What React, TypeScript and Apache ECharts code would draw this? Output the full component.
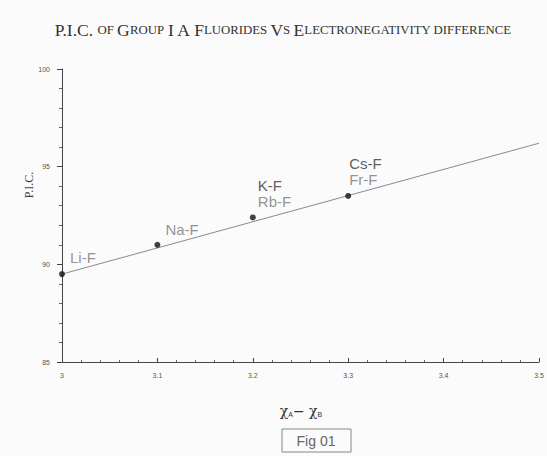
import React, { useEffect, useRef } from "react";
import * as echarts from "echarts";

const pointX = [3.0, 3.1, 3.2, 3.3];
const pointY = [89.5, 91.0, 92.4, 93.5];
const pointLabels = ["Li-F", "Na-F", "K-F\nRb-F", "Cs-F\nFr-F"];
const trendX = [3.0, 3.5];
const trendY = [89.5, 96.2];
const xTicks = { min: 3, max: 3.5, interval: 0.1 };
const yTicks = { min: 85, max: 100, interval: 5 };
const titleParts = [
  ["P.I.C. ", "b"], ["OF ", "s"], ["G", "b"], ["ROUP ", "s"], ["I A ", "b"],
  ["F", "b"], ["LUORIDES ", "s"], ["V", "b"], ["S ", "s"], ["E", "b"],
  ["LECTRONEGATIVITY DIFFERENCE", "s"],
];

export default function App() {
  const ref = useRef<HTMLDivElement>(null);
  useEffect(() => {
    const chart = echarts.init(ref.current!, null, { renderer: "svg" });
    const labelOffsets = [[0, -17], [0, -15], [-3, -24], [-7, -24]];
    const titleText = titleParts.map(([t, k]) => `{${k}|${t}}`).join("");
    chart.setOption({
      animation: false,
      backgroundColor: "#fbfbfb",
      title: {
        text: titleText,
        left: 278,
        top: 16,
        textAlign: "center",
        textStyle: {
          fontWeight: "normal",
          rich: {
            b: { fontFamily: "Liberation Serif", fontSize: 17.5, color: "#333", fontWeight: "normal" },
            s: { fontFamily: "Liberation Serif", fontSize: 12.8, color: "#333", fontWeight: "normal" },
          },
        },
      },
      grid: { left: 62, right: 8, top: 69, bottom: 94 },
      xAxis: {
        type: "value",
        min: xTicks.min,
        max: xTicks.max,
        interval: xTicks.interval,
        axisLine: { lineStyle: { color: "#444", width: 1 } },
        axisTick: { show: true, length: 4, inside: true, lineStyle: { color: "#444" } },
        minorTick: { show: true, splitNumber: 5, length: 2, lineStyle: { color: "#666" } },
        splitLine: { show: false },
        axisLabel: { fontSize: 7, color: "#555", margin: 10, fontFamily: "Liberation Sans" },
      },
      yAxis: {
        type: "value",
        min: yTicks.min,
        max: yTicks.max,
        interval: yTicks.interval,
        axisLine: { show: true, lineStyle: { color: "#444", width: 1 } },
        axisTick: { show: true, length: 5, lineStyle: { color: "#444" } },
        minorTick: { show: true, splitNumber: 5, length: 3, lineStyle: { color: "#666" } },
        splitLine: { show: false },
        axisLabel: { fontSize: 7, color: "#555", margin: 12, fontFamily: "Liberation Sans" },
      },
      series: [
        {
          type: "line",
          data: trendX.map((x, i) => [x, trendY[i]]),
          symbol: "none",
          lineStyle: { color: "#8a8a8a", width: 1 },
          z: 1,
        },
        {
          type: "scatter",
          symbolSize: 6,
          itemStyle: { color: "#111" },
          z: 3,
          data: pointX.map((x, i) => {
            const parts = pointLabels[i].split("\n");
            const formatted = parts.length > 1
              ? `{a|${parts[0]}}\n{c|${parts[1]}}`
              : `{c|${parts[0]}}`;
            return {
              value: [x, pointY[i]],
              label: {
                show: true,
                position: "right",
                offset: labelOffsets[i],
                formatter: formatted,
                rich: {
                  a: { fontSize: 15, color: "#333", fontFamily: "Liberation Sans", lineHeight: 16 },
                  c: { fontSize: 15, color: "#777", fontFamily: "Liberation Sans", lineHeight: 16 },
                },
              },
            };
          }),
        },
      ],
      graphic: [
        {
          type: "text",
          x: 29,
          y: 185,
          rotation: Math.PI / 2,
          style: {
            text: "P.I.C.",
            fontFamily: "Liberation Serif",
            fontSize: 12,
            fill: "#444",
            align: "center",
            verticalAlign: "middle",
          },
        },
        {
          type: "text",
          x: 301,
          y: 411,
          style: {
            text: "{g|χ}{sub|A}{g|− χ}{sub|B}",
            align: "center",
            verticalAlign: "middle",
            rich: {
              g: { fontSize: 14, fill: "#333", fontFamily: "DejaVu Serif" },
              sub: { fontSize: 7, fill: "#333", fontFamily: "Liberation Sans", padding: [7, 0, 0, 0] },
            },
          },
        },
        {
          type: "rect",
          shape: { x: 282, y: 429, width: 69, height: 23 },
          style: { fill: "none", stroke: "#888", lineWidth: 1 },
        },
        {
          type: "text",
          x: 316,
          y: 441,
          style: {
            text: "Fig 01",
            fontFamily: "Liberation Sans",
            fontSize: 14,
            fill: "#666",
            align: "center",
            verticalAlign: "middle",
          },
        },
      ],
    });
    return () => chart.dispose();
  }, []);
  return (
    <div
      ref={ref}
      style={{ position: "absolute", left: 0, top: 0, width: 547, height: 456 }}
    />
  );
}
